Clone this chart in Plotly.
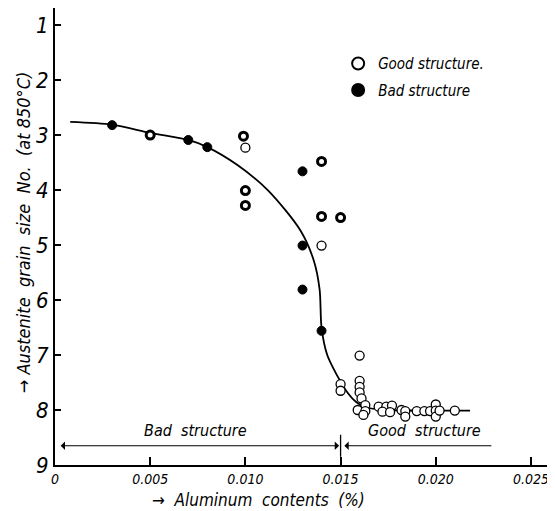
import plotly.graph_objects as go

# ---- data ----
good_x = [0.0100, 0.0140, 0.0160, 0.0150, 0.0150, 0.0160, 0.0160, 0.0160, 0.0161, 0.0163,
          0.0159, 0.0163, 0.0162, 0.0170, 0.0174, 0.0177, 0.0172, 0.0176, 0.0182, 0.0184,
          0.0184, 0.0190, 0.0194, 0.0197, 0.0200, 0.0200, 0.0200, 0.0202, 0.0210]
good_y = [3.23, 5.01, 7.01, 7.53, 7.65, 7.47, 7.58, 7.68, 7.79, 7.91,
          8.00, 8.02, 8.09, 7.94, 7.94, 7.92, 8.03, 8.04, 8.00, 8.02,
          8.12, 8.02, 8.02, 8.02, 7.90, 8.01, 8.12, 8.01, 8.01]

bad_x = [0.0030, 0.0070, 0.0080, 0.0130, 0.0130, 0.0130, 0.0140]
bad_y = [2.82, 3.09, 3.22, 3.66, 5.01, 5.81, 6.56]

# dark rings (bad structure, poorly printed)
ring_x = [0.0050, 0.0099, 0.0100, 0.0100, 0.0140, 0.0140, 0.0150]
ring_y = [3.00, 3.02, 4.01, 4.28, 3.48, 4.48, 4.50]

curve_x = [0.0008, 0.0030, 0.0050, 0.0070, 0.0080, 0.0096, 0.0112, 0.0129, 0.0136,
           0.0139, 0.0140, 0.0143, 0.0148, 0.0154, 0.0158, 0.0163, 0.0175, 0.0190, 0.0218]
curve_y = [2.76, 2.81, 2.96, 3.09, 3.22, 3.55, 4.01, 4.74, 5.29,
           5.81, 6.50, 7.00, 7.36, 7.70, 7.85, 7.95, 8.00, 8.01, 8.01]

x_tickvals = [0, 0.005, 0.010, 0.015, 0.020, 0.025]
x_ticktext = ["0", "0.005", "0.010", "0.015", "0.020", "0.025"]
y_tickvals = [1, 2, 3, 4, 5, 6, 7, 8, 9]
y_ticktext = ["1", "2", "3", "4", "5", "6", "7", "8", "9"]

boundary = 0.015
zone_y = 8.65
zone_left = 0.0003
zone_right = 0.0230
zone_label_y = 8.38
bad_label_x = 0.0074
good_label_x = 0.0194

FONT = "DejaVu Sans Condensed, Liberation Sans Narrow, sans-serif"

fig = go.Figure()
fig.add_trace(go.Scatter(x=curve_x, y=curve_y, mode="lines", line=dict(color="black", width=1.8, shape="spline", smoothing=0.8),
                         showlegend=False, hoverinfo="skip"))
fig.add_trace(go.Scatter(x=good_x, y=good_y, mode="markers", name="Good structure.", legendgroup="g",
                         marker=dict(symbol="circle", size=9, color="white", line=dict(color="black", width=1.3))))
fig.add_trace(go.Scatter(x=bad_x, y=bad_y, mode="markers", name="Bad structure", legendgroup="b",
                         marker=dict(symbol="circle", size=9, color="black", line=dict(color="black", width=1))))
fig.add_trace(go.Scatter(x=ring_x, y=ring_y, mode="markers", name="Bad structure", legendgroup="b", showlegend=False,
                         marker=dict(symbol="circle", size=8, color="white", line=dict(color="black", width=3))))

fig.update_layout(
    width=547, height=503,
    margin=dict(l=47, r=5, t=0, b=46),
    paper_bgcolor="white", plot_bgcolor="white",
    font=dict(family=FONT, color="black", style="italic"),
    showlegend=True,
    legend=dict(x=0.572, y=0.914, xanchor="left", yanchor="top", bgcolor="rgba(0,0,0,0)",
                font=dict(size=15, family=FONT, style="italic"), traceorder="grouped", tracegroupgap=4,
                itemsizing="constant"),
    xaxis=dict(range=[0, 0.026], tickvals=x_tickvals, ticktext=x_ticktext, ticks="inside", ticklen=8,
               tickwidth=1.5, tickcolor="black", showline=True, linecolor="black", linewidth=2,
               showgrid=False, zeroline=False, ticklabeloverflow="allow",
               tickfont=dict(size=14, family=FONT, style="italic")),
    yaxis=dict(range=[9, 0.69], tickvals=y_tickvals, ticktext=y_ticktext, ticks="inside", ticklen=6,
               tickwidth=1.5, tickcolor="black", showline=True, linecolor="black", linewidth=2,
               showgrid=False, zeroline=False, ticklabelstandoff=0,
               tickfont=dict(size=22, family=FONT, style="italic")),
)

# zone arrows
fig.add_annotation(x=zone_left, y=zone_y, ax=boundary, ay=zone_y, xref="x", yref="y", axref="x", ayref="y",
                   text="", showarrow=True, arrowhead=1, startarrowhead=1, arrowside="end+start",
                   arrowsize=1.2, arrowwidth=1.2, arrowcolor="black")
fig.add_annotation(x=boundary + 0.0002, y=zone_y, ax=zone_right, ay=zone_y, xref="x", yref="y", axref="x", ayref="y",
                   text="", showarrow=True, arrowhead=1, arrowsize=1.2, arrowwidth=1.2, arrowcolor="black")
fig.add_shape(type="line", x0=boundary, x1=boundary, y0=zone_y - 0.2, y1=zone_y + 0.2, xref="x", yref="y",
              line=dict(color="black", width=1.3))
fig.add_annotation(x=bad_label_x, y=zone_label_y, text="Bad  structure", showarrow=False, xref="x", yref="y",
                   xanchor="center", yanchor="middle", font=dict(size=16, family=FONT, style="italic"))
fig.add_annotation(x=good_label_x, y=zone_label_y, text="Good  structure", showarrow=False, xref="x", yref="y",
                   xanchor="center", yanchor="middle", font=dict(size=16, family=FONT, style="italic"))

# axis titles
fig.add_annotation(x=-0.062, y=0.51, xref="paper", yref="paper", textangle=-90, showarrow=False,
                   xanchor="center", yanchor="middle",
                   text="→ Austenite  grain  size  No.  (at 850°C)", font=dict(size=18, family=FONT, style="italic"))
fig.add_annotation(x=0.0107, y=-0.0764, xref="x", yref="paper", showarrow=False,
                   xanchor="center", yanchor="middle",
                   text="→  Aluminum  contents  (%)", font=dict(size=17, family=FONT, style="italic"))

fig.write_html("out.html")
